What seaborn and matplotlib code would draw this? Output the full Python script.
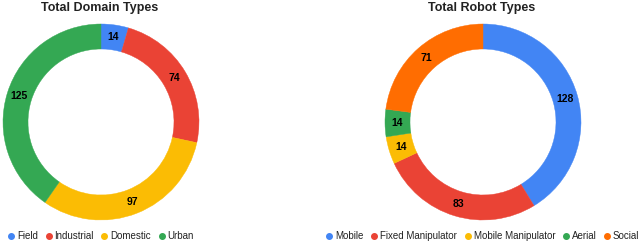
import matplotlib
matplotlib.use("Agg")
import matplotlib.pyplot as plt
from matplotlib import font_manager as fm
from matplotlib.lines import Line2D
import seaborn as sns

# data
domain_labels = ["Field", "Industrial", "Domestic", "Urban"]
domain_counts = [14, 74, 97, 125]
robot_labels = ["Mobile", "Fixed Manipulator", "Mobile Manipulator", "Aerial", "Social"]
robot_counts = [128, 83, 14, 14, 71]

sns.set_theme(style="white")
# keep the narrow Liberation variant from being picked
fm.fontManager.ttflist = [f for f in fm.fontManager.ttflist if "Narrow" not in f.fname]
plt.rcParams["font.family"] = ["Liberation Sans", "DejaVu Sans"]

palette = sns.color_palette(["#4285F4", "#EA4335", "#FBBC04", "#34A853", "#FF6D01"])

fig = plt.figure(figsize=(6.4, 2.42), dpi=100)


def donut(ax, counts, labels, title, leg_x):
    cols = palette[:len(counts)]
    wedges, texts = ax.pie(counts, colors=cols, startangle=90, counterclock=False,
                           radius=0.98, wedgeprops=dict(width=0.25, linewidth=0),
                           labels=[str(c) for c in counts], labeldistance=0.855 / 0.98,
                           textprops=dict(fontsize=7.5, fontweight="bold", color="black"))
    for w in wedges:
        w.set_edgecolor(w.get_facecolor())
        w.set_linewidth(0.3)
    for t in texts:
        t.set_ha("center")
        t.set_va("center")
    ax.set_xlim(-1, 1)
    ax.set_ylim(-1, 1)
    ax.set_axis_off()
    fig.text(leg_x, 1 - 8 / 242, title, ha="center", va="center",
             fontsize=9, fontweight="bold", color="#222222")
    handles = [Line2D([], [], marker="o", linestyle="", markersize=4,
                      markerfacecolor=c, markeredgecolor=c) for c in cols]
    fig.legend(handles, labels, loc="center", bbox_to_anchor=(leg_x, 1 - 236 / 242),
               ncol=len(labels), frameon=False, fontsize=7, handletextpad=0.1,
               columnspacing=0.6, handlelength=1.0, borderaxespad=0,
               labelcolor="#222222")


ax1 = fig.add_axes([1 / 640, 20 / 242, 200 / 640, 200 / 242])
donut(ax1, domain_counts, domain_labels, "Total Domain Types", 100 / 640)

ax2 = fig.add_axes([383 / 640, 20 / 242, 200 / 640, 200 / 242])
donut(ax2, robot_counts, robot_labels, "Total Robot Types", 482 / 640)

fig.savefig("out.png", dpi=100)
